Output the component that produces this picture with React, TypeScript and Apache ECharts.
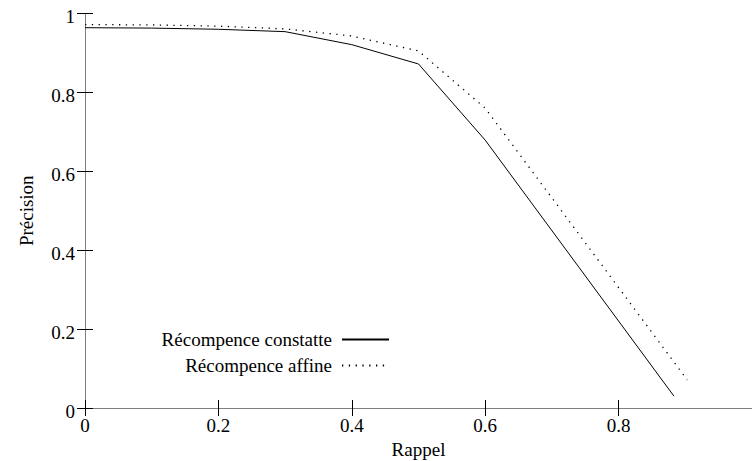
import React, { useEffect, useRef } from "react";
import * as echarts from "echarts";

const constRecall = [0, 0.1, 0.2, 0.3, 0.4, 0.5, 0.6, 0.883];
const constPrecision = [0.964, 0.963, 0.96, 0.954, 0.921, 0.872, 0.679, 0.03];
const affineRecall = [0, 0.1, 0.2, 0.3, 0.4, 0.5, 0.6, 0.903];
const affinePrecision = [0.972, 0.971, 0.968, 0.961, 0.943, 0.905, 0.76, 0.071];
const seriesNames = ["Récompence constatte", "Récompence affine"];
const xTitle = "Rappel";
const yTitle = "Précision";

const FONT = "Liberation Serif";

export default function App() {
  const ref = useRef<HTMLDivElement>(null);
  useEffect(() => {
    if (!ref.current) return;
    const chart = echarts.init(ref.current, null, { renderer: "svg" });
    const axisLine = { show: true, lineStyle: { color: "#808080", width: 1 } };
    const axisTick = { show: true, inside: true, length: 8, lineStyle: { color: "#000", width: 1 } };
    const fmt = (v: number) => String(Math.round(v * 10) / 10);
    const rich = { s: { fontFamily: FONT, fontSize: 19, color: "#000" } };
    const legendText = { fontFamily: FONT, fontSize: 19, color: "#000", padding: [0, 5, 0, 0] };
    chart.setOption({
      animation: false,
      backgroundColor: "#fff",
      textStyle: { fontFamily: FONT },
      grid: {
        left: 85,
        right: 0,
        top: 13.5,
        bottom: 53,
        containLabel: false,
        outerBoundsMode: "none",
      },
      xAxis: [
        {
          type: "value",
          min: 0,
          max: 1,
          interval: 0.2,
          position: "bottom",
          name: xTitle,
          nameLocation: "middle",
          nameGap: 28,
          nameTextStyle: { fontFamily: FONT, fontSize: 19, color: "#000" },
          axisLine,
          axisTick,
          splitLine: { show: false },
          axisLabel: {
            fontFamily: FONT,
            fontSize: 19,
            color: "#000",
            margin: 8,
            rich,
            formatter: (v: number) => (v >= 1 ? "" : "{s|" + fmt(v) + "}"),
          },
        },
        {
          type: "value",
          min: 0,
          max: 1,
          interval: 0.2,
          position: "top",
          axisLine,
          axisTick,
          splitLine: { show: false },
          axisLabel: { show: false },
        },
      ],
      yAxis: [
        {
          type: "value",
          min: 0,
          max: 1,
          interval: 0.2,
          position: "left",
          name: yTitle,
          nameLocation: "middle",
          nameGap: 49,
          nameRotate: 90,
          nameTextStyle: { fontFamily: FONT, fontSize: 19, color: "#000" },
          axisLine,
          axisTick,
          splitLine: { show: false },
          axisLabel: {
            fontFamily: FONT,
            fontSize: 19,
            color: "#000",
            margin: 10,
            padding: [6, 0, 0, 0],
            rich,
            formatter: (v: number) => "{s|" + fmt(v) + "}",
          },
        },
        {
          type: "value",
          min: 0,
          max: 1,
          interval: 0.2,
          position: "right",
          axisLine,
          axisTick,
          splitLine: { show: false },
          axisLabel: { show: false },
        },
      ],
      legend: [
        {
          data: [seriesNames[0]],
          orient: "vertical",
          align: "right",
          right: 752 - 390,
          top: 330,
          itemWidth: 47,
          itemHeight: 14,
          padding: 0,
          itemStyle: { opacity: 0 },
          textStyle: legendText,
        },
        {
          data: [seriesNames[1]],
          orient: "vertical",
          align: "right",
          right: 752 - 390,
          top: 356,
          itemWidth: 47,
          itemHeight: 14,
          padding: 0,
          itemStyle: { opacity: 0 },
          textStyle: legendText,
        },
      ],
      series: [
        {
          name: seriesNames[0],
          type: "line",
          xAxisIndex: 0,
          yAxisIndex: 0,
          symbol: "none",
          showSymbol: false,
          lineStyle: { color: "#000", width: 1, type: "solid" },
          itemStyle: { color: "#000" },
          data: constRecall.map((x, i) => [x, constPrecision[i]]),
        },
        {
          name: seriesNames[1],
          type: "line",
          xAxisIndex: 0,
          yAxisIndex: 0,
          symbol: "none",
          showSymbol: false,
          lineStyle: { color: "#000", width: 1.3, type: [1.3, 5.5] },
          itemStyle: { color: "#000" },
          data: affineRecall.map((x, i) => [x, affinePrecision[i]]),
        },
      ],
    });
    return () => chart.dispose();
  }, []);
  return (
    <div
      ref={ref}
      style={{ position: "fixed", left: 0, top: 0, width: 752, height: 461, background: "#fff" }}
    />
  );
}
